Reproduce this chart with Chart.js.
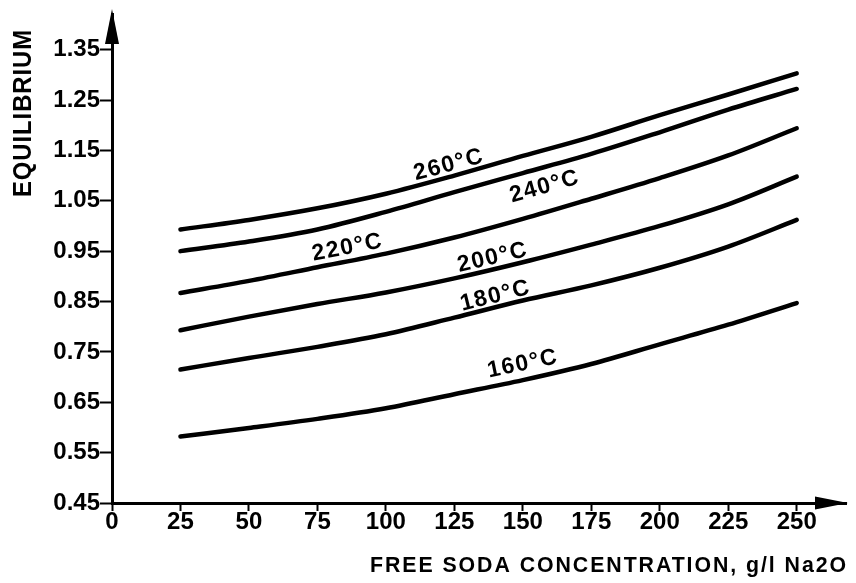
<!DOCTYPE html>
<html><head><meta charset="utf-8">
<script src="https://cdn.jsdelivr.net/npm/chart.js@4/dist/chart.umd.min.js"></script>
<style>html,body{margin:0;padding:0;background:#fff;} canvas{display:block;}</style>
</head><body>
<canvas id="c" width="856" height="583"></canvas>
<script>
const freeSoda = [25, 50, 75, 100, 125, 150, 175, 200, 225, 250];
const temp260 = [0.993, 1.012, 1.035, 1.064, 1.100, 1.139, 1.177, 1.220, 1.261, 1.303];
const temp240 = [0.950, 0.969, 0.993, 1.028, 1.067, 1.105, 1.143, 1.186, 1.231, 1.272];
const temp220 = [0.867, 0.891, 0.918, 0.945, 0.977, 1.014, 1.054, 1.095, 1.140, 1.194];
const temp200 = [0.793, 0.820, 0.845, 0.868, 0.896, 0.928, 0.963, 1.000, 1.043, 1.098];
const temp180 = [0.715, 0.738, 0.760, 0.785, 0.818, 0.852, 0.882, 0.917, 0.959, 1.012];
const temp160 = [0.582, 0.599, 0.617, 0.638, 0.666, 0.694, 0.726, 0.765, 0.804, 0.847];
const seriesNames = ['260°C', '240°C', '220°C', '200°C', '180°C', '160°C'];
const labelX = [123, 158, 86, 139, 140, 150];
const labelY = [1.121, 1.078, 0.957, 0.937, 0.861, 0.726];
const xTicks = [0, 25, 50, 75, 100, 125, 150, 175, 200, 225, 250];
const yTicks = [0.45, 0.55, 0.65, 0.75, 0.85, 0.95, 1.05, 1.15, 1.25, 1.35];
const yTickLabels = ['0.45', '0.55', '0.65', '0.75', '0.85', '0.95', '1.05', '1.15', '1.25', '1.35'];
const xTitle = 'FREE SODA CONCENTRATION, g/l Na2O';
const yTitle = 'EQUILIBRIUM';

const allSeries = [temp260, temp240, temp220, temp200, temp180, temp160];
const FONT = "'Liberation Sans', Arial, sans-serif";

const datasets = allSeries.map((vals, i) => ({
  label: seriesNames[i],
  data: vals.map((v, j) => ({ x: freeSoda[j], y: v })),
  borderColor: '#000',
  borderWidth: 4.5,
  pointRadius: 0,
  cubicInterpolationMode: 'monotone',
  borderCapStyle: 'round',
  fill: false
}));

function fittedText(ctx, text, width) {
  const w = ctx.measureText(text).width;
  ctx.save();
  ctx.scale(width / w, 1);
  ctx.fillText(text, 0, 0);
  ctx.restore();
}

const decor = {
  id: 'decor',
  afterDraw(chart) {
    const ctx = chart.ctx;
    const xs = chart.scales.x, ys = chart.scales.y;
    const ca = chart.chartArea;
    ctx.save();
    ctx.fillStyle = '#000';
    // y arrow
    const ax = ca.left;
    ctx.beginPath();
    ctx.moveTo(ax, 9);
    ctx.lineTo(ax - 7, 44);
    ctx.lineTo(ax + 7, 44);
    ctx.closePath();
    ctx.fill();
    // x arrow
    const ay = ca.bottom;
    ctx.beginPath();
    ctx.moveTo(ca.right + 2, ay);
    ctx.lineTo(ca.right - 31, ay - 6.5);
    ctx.lineTo(ca.right - 31, ay + 6.5);
    ctx.closePath();
    ctx.fill();
    // curve labels
    ctx.font = "bold 23px " + FONT;
    ctx.textAlign = 'center';
    ctx.textBaseline = 'middle';
    try { ctx.letterSpacing = '1.5px'; } catch (e) {}
    seriesNames.forEach((name, i) => {
      const vals = allSeries[i];
      let k = 0;
      while (k < freeSoda.length - 2 && freeSoda[k + 1] < labelX[i]) k++;
      const x0 = xs.getPixelForValue(freeSoda[k]), y0 = ys.getPixelForValue(vals[k]);
      const x1 = xs.getPixelForValue(freeSoda[k + 1]), y1 = ys.getPixelForValue(vals[k + 1]);
      const ang = Math.atan2(y1 - y0, x1 - x0);
      ctx.save();
      ctx.translate(xs.getPixelForValue(labelX[i]), ys.getPixelForValue(labelY[i]));
      ctx.rotate(ang);
      ctx.fillText(name, 0, 0);
      ctx.restore();
    });
    // x title
    ctx.font = "bold 22px " + FONT;
    try { ctx.letterSpacing = '2px'; } catch (e) {}
    ctx.textAlign = 'left';
    ctx.textBaseline = 'middle';
    ctx.save();
    ctx.translate(370, 566);
    fittedText(ctx, xTitle, 478);
    ctx.restore();
    // y title
    ctx.save();
    ctx.translate(24, 197);
    ctx.rotate(-Math.PI / 2);
    ctx.font = "bold 25px " + FONT;
    try { ctx.letterSpacing = '1px'; } catch (e) {}
    ctx.textAlign = 'left';
    ctx.textBaseline = 'middle';
    fittedText(ctx, yTitle, 168);
    ctx.restore();
    ctx.restore();
  }
};

new Chart(document.getElementById('c'), {
  type: 'line',
  data: { datasets },
  options: {
    responsive: false,
    animation: false,
    events: [],
    layout: { padding: { top: 7, right: 10, bottom: 0, left: 0 } },
    plugins: { legend: { display: false }, tooltip: { enabled: false }, title: { display: false } },
    scales: {
      x: {
        type: 'linear', min: 0, max: 268,
        afterBuildTicks: s => { s.ticks = xTicks.map(v => ({ value: v })); },
        afterFit: s => { s.height = 80; },
        ticks: { color: '#000', font: { family: FONT, size: 24, weight: 'bold' }, padding: -3, maxRotation: 0, autoSkip: false, callback: v => String(v) },
        grid: { display: true, drawOnChartArea: false, drawTicks: true, tickLength: 8, tickWidth: 2, tickColor: '#000' },
        border: { display: true, color: '#000', width: 3 }
      },
      y: {
        type: 'linear', min: 0.45, max: 1.42,
        afterBuildTicks: s => { s.ticks = yTicks.map(v => ({ value: v })); },
        afterFit: s => { s.width = 112; },
        ticks: { color: '#000', font: { family: FONT, size: 24, weight: 'bold' }, padding: 0, autoSkip: false, callback: (v, i) => yTickLabels[i] },
        grid: { display: true, drawOnChartArea: false, drawTicks: true, tickLength: 12, tickWidth: 2, tickColor: '#000' },
        border: { display: true, color: '#000', width: 3 }
      }
    }
  },
  plugins: [decor]
});
</script>
</body></html>
